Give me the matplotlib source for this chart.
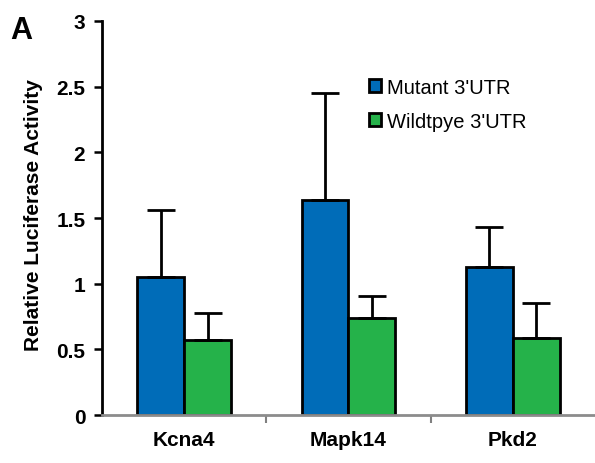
import matplotlib
matplotlib.use("Agg")
import matplotlib.pyplot as plt
import numpy as np

plt.rcParams['font.family'] = ['Liberation Sans', 'DejaVu Sans']

genes = ["Kcna4", "Mapk14", "Pkd2"]
mutant = [1.05, 1.64, 1.13]
mutant_err = [0.51, 0.81, 0.30]
wildtype = [0.57, 0.74, 0.59]
wildtype_err = [0.21, 0.17, 0.26]
series_labels = ["Mutant 3'UTR", "Wildtpye 3'UTR"]
yticks = [0, 0.5, 1, 1.5, 2, 2.5, 3]
ytick_labels = ["0", "0.5", "1", "1.5", "2", "2.5", "3"]

blue = "#006CB8"
green = "#25B24A"

fig = plt.figure(figsize=(5.95, 4.64), dpi=100)
ax = fig.add_axes([0.1714, 0.1034, 0.8286, 0.8492])

x = np.arange(len(genes))
w = 0.285
err_kw = dict(elinewidth=2.0, capsize=10, capthick=2.0, ecolor="black")
ax.bar(x - w / 2, mutant, w, color=blue, edgecolor="black", linewidth=2.0,
       yerr=[np.zeros(3), mutant_err], error_kw=err_kw, label=series_labels[0], zorder=2)
ax.bar(x + w / 2, wildtype, w, color=green, edgecolor="black", linewidth=2.0,
       yerr=[np.zeros(3), wildtype_err], error_kw=err_kw, label=series_labels[1], zorder=2)

ax.set_xlim(-0.5, 2.5)
ax.set_ylim(0, 3)
ax.set_yticks(yticks)
ax.set_yticklabels(ytick_labels, fontsize=15, fontweight="bold")
ax.set_xticks(x)
ax.set_xticklabels(genes, fontsize=15, fontweight="bold")
ax.tick_params(axis="x", length=0, pad=11)
ax.set_xticks([0.5, 1.5], minor=True)
ax.tick_params(axis="x", which="minor", length=6, width=1.5, color="#808080")
ax.tick_params(axis="y", length=6, width=1.8, color="black", pad=6)

for side in ("top", "right"):
    ax.spines[side].set_visible(False)
ax.spines["left"].set_linewidth(2.0)
ax.spines["bottom"].set_linewidth(2.0)
ax.spines["bottom"].set_color("#8c8c8c")

ax.set_ylabel("Relative Luciferase Activity", fontsize=15, fontweight="bold")
ax.yaxis.set_label_coords(-0.12, 0.51)

leg = ax.legend(loc="upper left", bbox_to_anchor=(0.504, 0.902), frameon=False,
                fontsize=14.5, handlelength=0.6, handleheight=0.6, handletextpad=0.3,
                labelspacing=0.75)
for h in leg.legend_handles:
    h.set_linewidth(2.0)

fig.text(0.018, 0.965, "A", fontsize=22, fontweight="bold", va="top", ha="left")

fig.savefig("out.png", dpi=100)
